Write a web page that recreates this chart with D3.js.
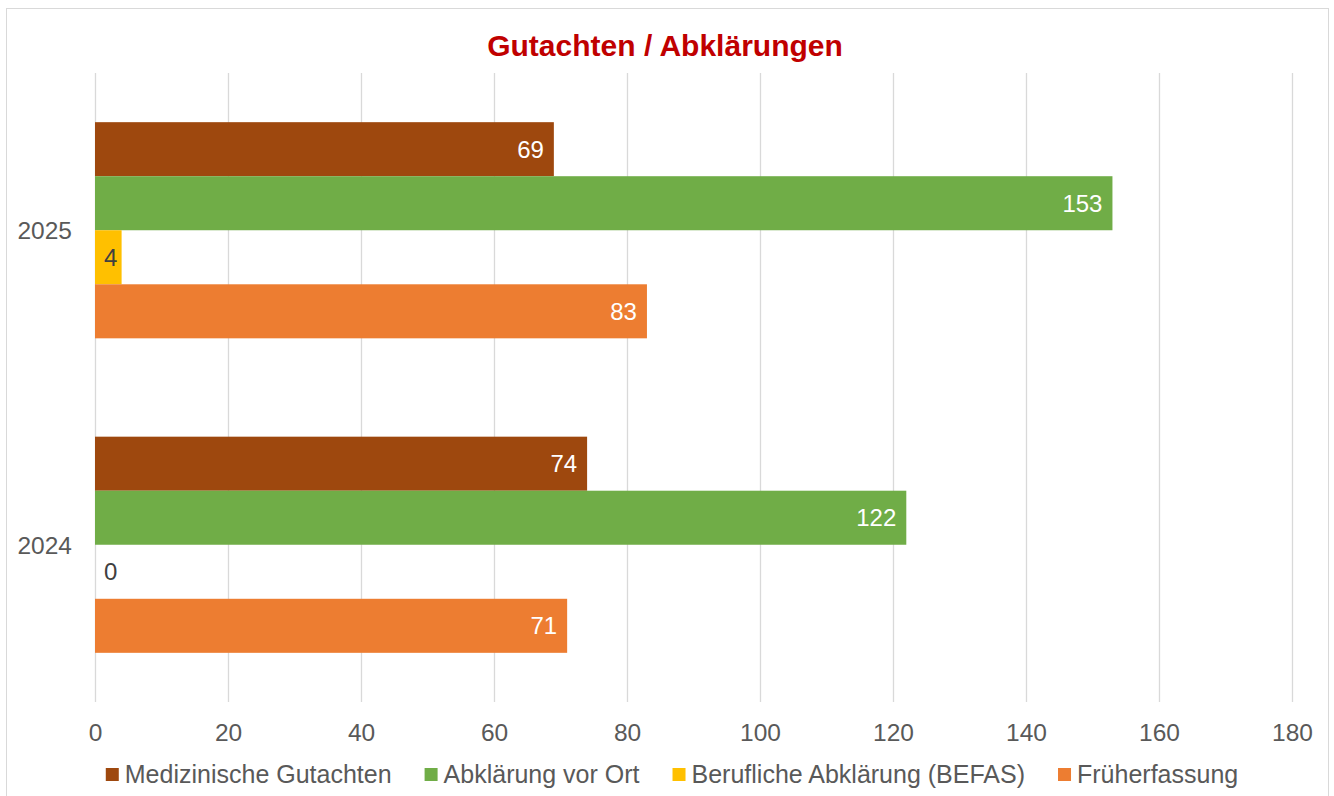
<!DOCTYPE html>
<html>
<head>
<meta charset="utf-8">
<script src="https://cdn.jsdelivr.net/npm/d3@7"></script>
<style>
  body { margin: 0; background: #fff; }
  svg text { font-family: "Liberation Sans", Arial, sans-serif; }
</style>
</head>
<body>
<div id="chart"></div>
<script>
"use strict";

// data
var categories = ["2025", "2024"];
var seriesNames = ["Medizinische Gutachten", "Abklärung vor Ort", "Berufliche Abklärung (BEFAS)", "Früherfassung"];
var medizinische = [69, 74];
var abklaerung = [153, 122];
var befas = [4, 0];
var frueherfassung = [83, 71];
var xTicks = [0, 20, 40, 60, 80, 100, 120, 140, 160, 180];

var seriesValues = [medizinische, abklaerung, befas, frueherfassung];
var seriesColors = ["#9E480E", "#70AD47", "#FFC000", "#ED7D31"];

var width = 1334;
var height = 796;
var plotLeft = 95, plotRight = 1292, plotTop = 73, plotBottom = 702;
var gapWidth = 1.82;

var svg = d3.select("#chart").append("svg")
  .attr("width", width)
  .attr("height", height);

svg.append("rect")
  .attr("x", 6.5).attr("y", 8.5)
  .attr("width", 1322).attr("height", 800)
  .attr("fill", "#fff")
  .attr("stroke", "#D9D9D9");

svg.append("text")
  .text("Gutachten / Abklärungen")
  .attr("x", 665).attr("y", 56)
  .attr("text-anchor", "middle")
  .attr("font-size", "30px")
  .attr("font-weight", "bold")
  .attr("fill", "#C00000");

var x = d3.scaleLinear().domain([0, 180]).range([plotLeft, plotRight]);
var y = d3.scaleBand().domain(categories).range([plotTop, plotBottom]);
var ys = d3.scaleBand().domain(d3.range(seriesNames.length))
  .range([0, y.bandwidth()])
  .paddingOuter(gapWidth / 2);

// gridlines
var grid = svg.append("g")
  .attr("transform", "translate(0," + plotBottom + ")")
  .call(d3.axisBottom(x).tickValues(xTicks).tickSize(-(plotBottom - plotTop)).tickFormat(""));
grid.select(".domain").remove();
grid.selectAll("line").attr("stroke", "#D9D9D9").attr("stroke-width", 1.3);

// x axis labels
var xa = svg.append("g")
  .attr("transform", "translate(0," + plotBottom + ")")
  .call(d3.axisBottom(x).tickValues(xTicks).tickSize(0).tickPadding(0));
xa.select(".domain").remove();
xa.selectAll("text")
  .attr("y", 39).attr("dy", null)
  .attr("font-size", "24.5px")
  .attr("font-family", "'Liberation Sans', Arial, sans-serif")
  .attr("fill", "#595959");

// y axis labels
var ya = svg.append("g")
  .attr("transform", "translate(" + plotLeft + ",0)")
  .call(d3.axisLeft(y).tickSize(0).tickPadding(23));
ya.select(".domain").remove();
ya.selectAll("text")
  .attr("dy", "0.36em")
  .attr("font-size", "24.5px")
  .attr("font-family", "'Liberation Sans', Arial, sans-serif")
  .attr("fill", "#595959");

// bars
var rows = [];
categories.forEach(function(c, ci){
  seriesValues.forEach(function(vals, si){
    rows.push({cat: c, s: si, v: vals[ci]});
  });
});

var bars = svg.append("g");
bars.selectAll("rect")
  .data(rows)
  .enter()
    .append("rect")
      .attr("x", x(0))
      .attr("y", function(d){ return y(d.cat) + ys(d.s); })
      .attr("width", function(d){ return x(d.v) - x(0); })
      .attr("height", ys.bandwidth())
      .attr("fill", function(d){ return seriesColors[d.s]; });

var labels = svg.append("g");
labels.selectAll("text")
  .data(rows)
  .enter()
    .append("text")
      .text(function(d){ return d.v; })
      .attr("y", function(d){ return y(d.cat) + ys(d.s) + ys.bandwidth() / 2; })
      .attr("dy", "0.36em")
      .attr("font-size", "24px")
      .each(function(d){
        var t = d3.select(this);
        var w = this.getComputedTextLength();
        var len = x(d.v) - x(0);
        if(len > w + 20){
          t.attr("x", x(d.v) - 10).attr("text-anchor", "end").attr("fill", "#fff");
        }
        else{
          t.attr("x", x(0) + 9).attr("text-anchor", "start").attr("fill", "#404040");
        }
      });

// legend
var legend = svg.append("g");
var items = legend.selectAll("g")
  .data(seriesNames)
  .enter()
    .append("g");
items.append("rect")
  .attr("width", 13).attr("height", 13)
  .attr("y", 768)
  .attr("fill", function(d, i){ return seriesColors[i]; });
items.append("text")
  .text(function(d){ return d; })
  .attr("x", 19)
  .attr("y", 783)
  .attr("font-size", "25px")
  .attr("fill", "#595959");

var offsets = [];
var total = 0;
items.each(function(d, i){
  var w = 19 + d3.select(this).select("text").node().getComputedTextLength();
  offsets.push(total);
  total += w + (i < seriesNames.length - 1 ? 33 : 0);
});
var startX = 672 - total / 2;
items.attr("transform", function(d, i){ return "translate(" + (startX + offsets[i]) + ",0)"; });
</script>
</body>
</html>
